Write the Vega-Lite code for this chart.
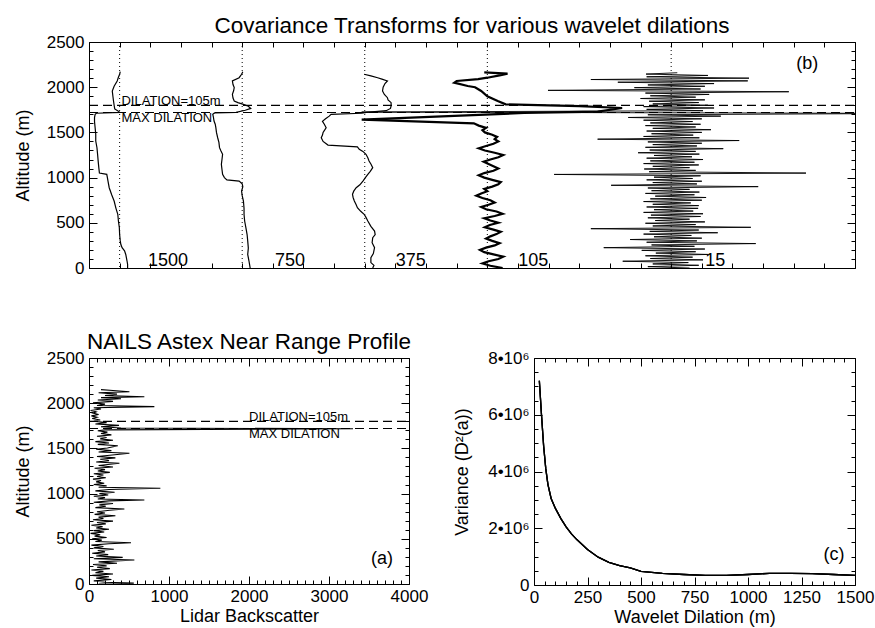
{
  "$schema": "https://vega.github.io/schema/vega-lite/v6.json",
  "padding": {"left": 13, "top": 14, "right": 5, "bottom": 2},
  "config": {
    "font": "Liberation Sans",
    "view": {"stroke": "black", "strokeWidth": 1},
    "axis": {"domain": false, "grid": false, "labelFontSize": 17, "titleFontSize": 18, "titleFontWeight": "normal", "labelColor": "black", "titleColor": "black", "tickColor": "black", "labelFont": "Liberation Sans", "titleFont": "Liberation Sans", "labelFlush": false, "labelOverlap": false, "tickWidth": 1, "format": "d", "minExtent": 0},
    "title": {"fontSize": 22.5, "fontWeight": "normal", "color": "black", "font": "Liberation Sans", "offset": -4, "frame": "group"},
    "line": {"color": "black"},
    "rule": {"color": "black"},
    "text": {"color": "black"}
  },
  "datasets": {
    "thin": [
      {"d":1500,"a":0,"x":1.13},{"d":1500,"a":40,"x":1.13},{"d":1500,"a":80,"x":1.12},{"d":1500,"a":150,"x":1.10},{"d":1500,"a":190,"x":1.08},{"d":1500,"a":225,"x":1.04},{"d":1500,"a":260,"x":1.02},{"d":1500,"a":300,"x":1.01},{"d":1500,"a":370,"x":1.00},{"d":1500,"a":446,"x":0.995},{"d":1500,"a":520,"x":0.98},{"d":1500,"a":594,"x":0.97},{"d":1500,"a":660,"x":0.94},{"d":1500,"a":741,"x":0.91},{"d":1500,"a":810,"x":0.87},{"d":1500,"a":888,"x":0.83},{"d":1500,"a":960,"x":0.81},{"d":1500,"a":1000,"x":0.80},{"d":1500,"a":1036,"x":0.79},{"d":1500,"a":1050,"x":0.67},{"d":1500,"a":1110,"x":0.66},{"d":1500,"a":1180,"x":0.65},{"d":1500,"a":1258,"x":0.64},{"d":1500,"a":1330,"x":0.63},{"d":1500,"a":1405,"x":0.61},{"d":1500,"a":1480,"x":0.61},{"d":1500,"a":1552,"x":0.60},{"d":1500,"a":1620,"x":0.59},{"d":1500,"a":1663,"x":0.59},{"d":1500,"a":1700,"x":0.60},{"d":1500,"a":1712,"x":0.62},{"d":1500,"a":1722,"x":1.00},{"d":1500,"a":1735,"x":0.98},{"d":1500,"a":1760,"x":0.92},{"d":1500,"a":1800,"x":0.91},{"d":1500,"a":1847,"x":0.90},{"d":1500,"a":1900,"x":0.89},{"d":1500,"a":1958,"x":0.88},{"d":1500,"a":2010,"x":0.91},{"d":1500,"a":2069,"x":0.96},{"d":1500,"a":2110,"x":0.98},{"d":1500,"a":2143,"x":1.00},{"d":1500,"a":2172,"x":1.01},
      {"d":750,"a":0,"x":3.13},{"d":750,"a":40,"x":3.12},{"d":750,"a":80,"x":3.11},{"d":750,"a":150,"x":3.09},{"d":750,"a":220,"x":3.10},{"d":750,"a":300,"x":3.09},{"d":750,"a":370,"x":3.08},{"d":750,"a":446,"x":3.06},{"d":750,"a":520,"x":3.04},{"d":750,"a":594,"x":3.03},{"d":750,"a":660,"x":3.03},{"d":750,"a":741,"x":3.02},{"d":750,"a":800,"x":3.00},{"d":750,"a":852,"x":2.99},{"d":750,"a":900,"x":3.01},{"d":750,"a":930,"x":3.00},{"d":750,"a":962,"x":2.95},{"d":750,"a":975,"x":2.75},{"d":750,"a":1000,"x":2.71},{"d":750,"a":1036,"x":2.68},{"d":750,"a":1090,"x":2.67},{"d":750,"a":1147,"x":2.66},{"d":750,"a":1200,"x":2.67},{"d":750,"a":1258,"x":2.68},{"d":750,"a":1300,"x":2.65},{"d":750,"a":1331,"x":2.63},{"d":750,"a":1390,"x":2.62},{"d":750,"a":1441,"x":2.60},{"d":750,"a":1500,"x":2.58},{"d":750,"a":1552,"x":2.57},{"d":750,"a":1590,"x":2.56},{"d":750,"a":1626,"x":2.54},{"d":750,"a":1670,"x":2.53},{"d":750,"a":1700,"x":2.52},{"d":750,"a":1715,"x":2.55},{"d":750,"a":1722,"x":2.90},{"d":750,"a":1745,"x":3.05},{"d":750,"a":1765,"x":3.14},{"d":750,"a":1790,"x":3.10},{"d":750,"a":1810,"x":3.02},{"d":750,"a":1830,"x":2.93},{"d":750,"a":1847,"x":2.87},{"d":750,"a":1880,"x":2.85},{"d":750,"a":1921,"x":2.84},{"d":750,"a":1960,"x":2.86},{"d":750,"a":1995,"x":2.87},{"d":750,"a":2030,"x":2.85},{"d":750,"a":2069,"x":2.84},{"d":750,"a":2105,"x":2.95},{"d":750,"a":2143,"x":2.99},{"d":750,"a":2170,"x":3.01},
      {"d":375,"a":0,"x":5.13},{"d":375,"a":30,"x":5.15},{"d":375,"a":60,"x":5.10},{"d":375,"a":114,"x":5.10},{"d":375,"a":160,"x":5.14},{"d":375,"a":225,"x":5.16},{"d":375,"a":280,"x":5.12},{"d":375,"a":335,"x":5.13},{"d":375,"a":370,"x":5.17},{"d":375,"a":409,"x":5.16},{"d":375,"a":460,"x":5.10},{"d":375,"a":520,"x":5.05},{"d":375,"a":560,"x":5.02},{"d":375,"a":594,"x":4.99},{"d":375,"a":630,"x":4.93},{"d":375,"a":667,"x":4.88},{"d":375,"a":700,"x":4.86},{"d":375,"a":741,"x":4.83},{"d":375,"a":780,"x":4.81},{"d":375,"a":815,"x":4.80},{"d":375,"a":850,"x":4.82},{"d":375,"a":888,"x":4.86},{"d":375,"a":920,"x":4.92},{"d":375,"a":962,"x":4.97},{"d":375,"a":1000,"x":5.01},{"d":375,"a":1036,"x":5.05},{"d":375,"a":1070,"x":5.09},{"d":375,"a":1110,"x":5.13},{"d":375,"a":1150,"x":5.10},{"d":375,"a":1184,"x":5.07},{"d":375,"a":1220,"x":5.05},{"d":375,"a":1258,"x":5.02},{"d":375,"a":1290,"x":4.97},{"d":375,"a":1313,"x":4.91},{"d":375,"a":1340,"x":4.88},{"d":375,"a":1360,"x":4.40},{"d":375,"a":1400,"x":4.32},{"d":375,"a":1441,"x":4.29},{"d":375,"a":1470,"x":4.31},{"d":375,"a":1500,"x":4.32},{"d":375,"a":1530,"x":4.35},{"d":375,"a":1552,"x":4.37},{"d":375,"a":1590,"x":4.34},{"d":375,"a":1622,"x":4.31},{"d":375,"a":1650,"x":4.36},{"d":375,"a":1680,"x":4.42},{"d":375,"a":1700,"x":4.45},{"d":375,"a":1712,"x":4.95},{"d":375,"a":1722,"x":5.03},{"d":375,"a":1740,"x":5.35},{"d":375,"a":1765,"x":5.42},{"d":375,"a":1792,"x":5.43},{"d":375,"a":1829,"x":5.43},{"d":375,"a":1860,"x":5.38},{"d":375,"a":1884,"x":5.37},{"d":375,"a":1920,"x":5.32},{"d":375,"a":1958,"x":5.29},{"d":375,"a":2000,"x":5.30},{"d":375,"a":2040,"x":5.33},{"d":375,"a":2069,"x":5.37},{"d":375,"a":2090,"x":5.28},{"d":375,"a":2105,"x":5.21},{"d":375,"a":2125,"x":5.10},{"d":375,"a":2143,"x":4.99}
    ],
    "t105": [
      {"a":0,"x":7.25},{"a":25,"x":7.05},{"a":50,"x":6.92},{"a":75,"x":7.02},{"a":100,"x":7.18},{"a":125,"x":7.26},{"a":150,"x":7.10},{"a":175,"x":6.95},{"a":200,"x":6.88},{"a":225,"x":6.98},{"a":250,"x":7.12},{"a":275,"x":7.20},{"a":300,"x":7.08},{"a":325,"x":6.98},{"a":350,"x":7.05},{"a":375,"x":7.15},{"a":400,"x":7.22},{"a":425,"x":7.10},{"a":450,"x":6.96},{"a":475,"x":7.04},{"a":500,"x":7.18},{"a":525,"x":7.05},{"a":550,"x":6.95},{"a":575,"x":7.12},{"a":600,"x":7.25},{"a":625,"x":7.15},{"a":650,"x":6.98},{"a":675,"x":6.90},{"a":700,"x":7.02},{"a":725,"x":7.12},{"a":750,"x":7.05},{"a":775,"x":6.92},{"a":800,"x":6.82},{"a":825,"x":6.90},{"a":850,"x":7.00},{"a":875,"x":6.95},{"a":900,"x":7.08},{"a":925,"x":7.18},{"a":950,"x":7.22},{"a":975,"x":7.08},{"a":1000,"x":6.95},{"a":1025,"x":6.86},{"a":1050,"x":6.95},{"a":1075,"x":7.10},{"a":1100,"x":7.18},{"a":1125,"x":7.10},{"a":1150,"x":7.02},{"a":1175,"x":6.94},{"a":1200,"x":7.05},{"a":1225,"x":7.18},{"a":1250,"x":7.26},{"a":1275,"x":7.12},{"a":1300,"x":6.96},{"a":1325,"x":6.86},{"a":1350,"x":6.98},{"a":1375,"x":7.10},{"a":1400,"x":7.18},{"a":1425,"x":7.12},{"a":1450,"x":7.16},{"a":1475,"x":7.08},{"a":1500,"x":6.96},{"a":1525,"x":6.92},{"a":1550,"x":6.98},{"a":1575,"x":6.86},{"a":1600,"x":6.78},{"a":1641,"x":4.95},{"a":1715,"x":7.6},{"a":1730,"x":8.8},{"a":1770,"x":9.2},{"a":1790,"x":8.5},{"a":1810,"x":7.3},{"a":1847,"x":7.17},{"a":1900,"x":7.0},{"a":1958,"x":6.90},{"a":2000,"x":6.8},{"a":2013,"x":6.68},{"a":2050,"x":6.46},{"a":2069,"x":6.5},{"a":2090,"x":6.85},{"a":2105,"x":7.0},{"a":2130,"x":7.2},{"a":2150,"x":7.33},{"a":2165,"x":6.95}
    ],
    "t15": [
      {"a":0,"x":10.30},{"a":15,"x":9.62},{"a":30,"x":10.45},{"a":45,"x":9.70},{"a":60,"x":10.28},{"a":75,"x":9.21},{"a":90,"x":10.52},{"a":105,"x":9.66},{"a":120,"x":10.35},{"a":135,"x":9.58},{"a":150,"x":10.60},{"a":165,"x":9.75},{"a":180,"x":10.40},{"a":195,"x":9.52},{"a":210,"x":10.55},{"a":225,"x":8.90},{"a":240,"x":10.38},{"a":255,"x":9.68},{"a":270,"x":11.38},{"a":285,"x":9.60},{"a":300,"x":10.42},{"a":315,"x":9.33},{"a":330,"x":10.50},{"a":345,"x":9.72},{"a":360,"x":10.33},{"a":375,"x":9.55},{"a":390,"x":10.76},{"a":405,"x":9.65},{"a":420,"x":10.45},{"a":435,"x":8.69},{"a":450,"x":11.30},{"a":465,"x":9.70},{"a":480,"x":10.40},{"a":495,"x":9.58},{"a":510,"x":10.55},{"a":525,"x":9.74},{"a":540,"x":10.30},{"a":555,"x":9.62},{"a":570,"x":10.48},{"a":585,"x":9.67},{"a":600,"x":10.52},{"a":615,"x":9.55},{"a":630,"x":10.36},{"a":645,"x":9.72},{"a":660,"x":10.44},{"a":675,"x":9.60},{"a":690,"x":10.45},{"a":705,"x":9.70},{"a":720,"x":10.32},{"a":735,"x":9.55},{"a":750,"x":10.50},{"a":765,"x":9.66},{"a":780,"x":10.57},{"a":795,"x":9.74},{"a":810,"x":10.38},{"a":825,"x":9.58},{"a":840,"x":10.46},{"a":855,"x":9.68},{"a":870,"x":10.30},{"a":885,"x":9.62},{"a":900,"x":11.42},{"a":915,"x":9.02},{"a":930,"x":10.42},{"a":945,"x":9.70},{"a":960,"x":10.50},{"a":975,"x":9.60},{"a":990,"x":10.35},{"a":1005,"x":9.72},{"a":1020,"x":10.48},{"a":1035,"x":8.09},{"a":1050,"x":12.20},{"a":1065,"x":9.64},{"a":1080,"x":10.40},{"a":1095,"x":9.56},{"a":1110,"x":10.30},{"a":1125,"x":9.70},{"a":1140,"x":10.45},{"a":1155,"x":9.55},{"a":1170,"x":10.38},{"a":1185,"x":9.66},{"a":1200,"x":10.52},{"a":1215,"x":9.60},{"a":1230,"x":10.34},{"a":1245,"x":9.72},{"a":1260,"x":10.46},{"a":1275,"x":9.46},{"a":1290,"x":10.40},{"a":1305,"x":9.65},{"a":1320,"x":10.85},{"a":1335,"x":9.58},{"a":1350,"x":10.42},{"a":1365,"x":9.70},{"a":1380,"x":10.50},{"a":1395,"x":9.62},{"a":1410,"x":11.11},{"a":1425,"x":8.80},{"a":1440,"x":10.46},{"a":1455,"x":9.55},{"a":1470,"x":10.36},{"a":1485,"x":9.68},{"a":1500,"x":10.50},{"a":1515,"x":9.60},{"a":1530,"x":10.65},{"a":1545,"x":9.70},{"a":1560,"x":10.40},{"a":1575,"x":9.58},{"a":1590,"x":10.48},{"a":1605,"x":9.66},{"a":1620,"x":10.35},{"a":1635,"x":9.55},{"a":1650,"x":10.50},{"a":1665,"x":9.30},{"a":1680,"x":10.81},{"a":1695,"x":9.62},{"a":1710,"x":14.00},{"a":1725,"x":4.95},{"a":1740,"x":10.52},{"a":1755,"x":9.60},{"a":1770,"x":10.70},{"a":1785,"x":9.55},{"a":1800,"x":10.60},{"a":1815,"x":9.70},{"a":1830,"x":10.45},{"a":1845,"x":9.64},{"a":1860,"x":10.55},{"a":1875,"x":9.50},{"a":1890,"x":10.40},{"a":1905,"x":9.66},{"a":1920,"x":10.62},{"a":1935,"x":9.58},{"a":1950,"x":11.92},{"a":1965,"x":7.99},{"a":1980,"x":10.48},{"a":1995,"x":9.40},{"a":2010,"x":10.55},{"a":2025,"x":9.62},{"a":2040,"x":10.70},{"a":2055,"x":9.13},{"a":2070,"x":11.25},{"a":2085,"x":8.69},{"a":2100,"x":11.27},{"a":2115,"x":9.60},{"a":2130,"x":10.60},{"a":2145,"x":9.59},{"a":2160,"x":10.10}
    ],
    "vlines": [{"x":1},{"x":3},{"x":5},{"x":7},{"x":10}],
    "hlinesTop": [{"a":1800,"x0":0.5,"x1":13},{"a":1720,"x0":0.5,"x1":13}],
    "numTop": [{"t":"1500","x":1.79,"a":25},{"t":"750","x":3.78,"a":25},{"t":"375","x":5.75,"a":25},{"t":"105","x":7.75,"a":25},{"t":"15","x":10.72,"a":25},{"t":"(b)","x":12.22,"a":2198}],
    "annTop": [{"t":"DILATION=105m","x":1.03,"a":1808},{"t":"MAX DILATION","x":1.03,"a":1612}],
    "lidar": [
      {"a":0,"v":120},{"a":10,"v":560},{"a":20,"v":200},{"a":35,"v":60},{"a":50,"v":280},{"a":65,"v":90},{"a":80,"v":250},{"a":95,"v":40},{"a":110,"v":300},{"a":125,"v":80},{"a":140,"v":180},{"a":155,"v":30},{"a":170,"v":260},{"a":185,"v":100},{"a":200,"v":220},{"a":215,"v":50},{"a":230,"v":350},{"a":245,"v":120},{"a":265,"v":567},{"a":280,"v":60},{"a":295,"v":421},{"a":310,"v":90},{"a":325,"v":240},{"a":340,"v":40},{"a":355,"v":200},{"a":370,"v":110},{"a":385,"v":310},{"a":400,"v":60},{"a":415,"v":180},{"a":430,"v":30},{"a":445,"v":250},{"a":457,"v":525},{"a":470,"v":80},{"a":485,"v":160},{"a":500,"v":40},{"a":515,"v":220},{"a":530,"v":70},{"a":545,"v":140},{"a":560,"v":20},{"a":575,"v":190},{"a":590,"v":60},{"a":605,"v":250},{"a":620,"v":90},{"a":635,"v":170},{"a":650,"v":30},{"a":665,"v":210},{"a":680,"v":100},{"a":695,"v":300},{"a":710,"v":50},{"a":725,"v":180},{"a":740,"v":120},{"a":755,"v":330},{"a":770,"v":70},{"a":785,"v":200},{"a":800,"v":100},{"a":815,"v":260},{"a":830,"v":442},{"a":845,"v":80},{"a":860,"v":210},{"a":875,"v":130},{"a":890,"v":300},{"a":905,"v":60},{"a":920,"v":250},{"a":929,"v":692},{"a":940,"v":110},{"a":955,"v":200},{"a":970,"v":60},{"a":985,"v":240},{"a":1000,"v":130},{"a":1015,"v":320},{"a":1030,"v":80},{"a":1045,"v":250},{"a":1059,"v":892},{"a":1070,"v":120},{"a":1085,"v":220},{"a":1100,"v":60},{"a":1115,"v":190},{"a":1130,"v":90},{"a":1145,"v":150},{"a":1160,"v":50},{"a":1175,"v":210},{"a":1190,"v":100},{"a":1205,"v":180},{"a":1220,"v":60},{"a":1235,"v":260},{"a":1250,"v":110},{"a":1265,"v":200},{"a":1280,"v":70},{"a":1295,"v":300},{"a":1310,"v":120},{"a":1335,"v":380},{"a":1350,"v":90},{"a":1365,"v":250},{"a":1380,"v":140},{"a":1395,"v":330},{"a":1410,"v":100},{"a":1425,"v":260},{"a":1446,"v":505},{"a":1460,"v":120},{"a":1475,"v":280},{"a":1490,"v":90},{"a":1505,"v":230},{"a":1530,"v":360},{"a":1545,"v":110},{"a":1560,"v":250},{"a":1575,"v":80},{"a":1590,"v":300},{"a":1605,"v":140},{"a":1620,"v":220},{"a":1635,"v":100},{"a":1650,"v":280},{"a":1665,"v":150},{"a":1680,"v":230},{"a":1695,"v":110},{"a":1705,"v":200},{"a":1712,"v":2200},{"a":1718,"v":3300},{"a":1725,"v":400},{"a":1740,"v":150},{"a":1755,"v":375},{"a":1770,"v":80},{"a":1785,"v":220},{"a":1800,"v":60},{"a":1815,"v":140},{"a":1830,"v":40},{"a":1845,"v":100},{"a":1860,"v":30},{"a":1875,"v":120},{"a":1890,"v":50},{"a":1905,"v":90},{"a":1920,"v":20},{"a":1935,"v":150},{"a":1950,"v":60},{"a":1962,"v":817},{"a":1975,"v":100},{"a":1990,"v":200},{"a":2005,"v":50},{"a":2020,"v":300},{"a":2035,"v":110},{"a":2050,"v":400},{"a":2062,"v":150},{"a":2072,"v":692},{"a":2085,"v":200},{"a":2100,"v":350},{"a":2115,"v":120},{"a":2127,"v":505},{"a":2140,"v":300},{"a":2150,"v":150}
    ],
    "hlinesA": [{"a":1800,"x0":0,"x1":4000},{"a":1720,"x0":0,"x1":4000}],
    "annA": [{"t":"DILATION=105m","v":2000,"a":1808},{"t":"MAX DILATION","v":2000,"a":1612}],
    "labA": [{"t":"(a)","v":3662,"a":221}],
    "curve": [
      {"w":25,"s":7200000},{"w":30,"s":6600000},{"w":35,"s":6000000},{"w":45,"s":4900000},{"w":55,"s":4100000},{"w":65,"s":3550000},{"w":80,"s":3050000},{"w":100,"s":2700000},{"w":125,"s":2350000},{"w":150,"s":2050000},{"w":175,"s":1800000},{"w":200,"s":1600000},{"w":250,"s":1250000},{"w":300,"s":980000},{"w":350,"s":800000},{"w":400,"s":680000},{"w":450,"s":600000},{"w":500,"s":480000},{"w":600,"s":410000},{"w":700,"s":370000},{"w":800,"s":340000},{"w":900,"s":340000},{"w":1000,"s":370000},{"w":1100,"s":410000},{"w":1200,"s":410000},{"w":1300,"s":400000},{"w":1400,"s":370000},{"w":1500,"s":340000}
    ],
    "labC": [{"t":"(c)","w":1402,"s":880000}]
  },
  "spacing": 53,
  "vconcat": [
    {
      "hconcat": [
        {
          "width": 766,
          "height": 226,
          "title": "Covariance Transforms for various wavelet dilations",
          "resolve": {"axis": {"x": "independent", "y": "independent"}},
          "layer": [
            {
              "data": {"name": "thin"},
              "mark": {"type": "line", "strokeWidth": 1.2, "clip": true},
              "encoding": {
                "x": {"field": "x", "type": "quantitative", "scale": {"domain": [0.5, 13], "nice": false, "zero": false}, "axis": {"orient": "bottom", "values": [0.5,1,1.5,2,2.5,3,3.5,4,4.5,5,5.5,6,6.5,7,7.5,8,8.5,9,9.5,10,10.5,11,11.5,12,12.5,13], "labels": false, "tickSize": 5, "offset": -5, "title": null}},
                "y": {"field": "a", "type": "quantitative", "scale": {"domain": [0, 2500], "nice": false}, "axis": {"orient": "left", "values": [0,500,1000,1500,2000,2500], "tickSize": 8, "offset": -8, "labelPadding": 5, "title": "Altitude (m)", "titlePadding": 14}},
                "detail": {"field": "d"},
                "order": {"field": "a"}
              }
            },
            {
              "data": {"name": "t105"},
              "mark": {"type": "line", "strokeWidth": 2.2, "clip": true},
              "encoding": {
                "x": {"field": "x", "type": "quantitative", "scale": {"domain": [0.5, 13], "nice": false, "zero": false}, "axis": {"orient": "top", "values": [0.5,1,1.5,2,2.5,3,3.5,4,4.5,5,5.5,6,6.5,7,7.5,8,8.5,9,9.5,10,10.5,11,11.5,12,12.5,13], "labels": false, "tickSize": 5, "offset": -5, "title": null}},
                "y": {"field": "a", "type": "quantitative", "scale": {"domain": [0, 2500], "nice": false}, "axis": {"orient": "left", "values": [100,200,300,400,600,700,800,900,1100,1200,1300,1400,1600,1700,1800,1900,2100,2200,2300,2400], "labels": false, "tickSize": 4, "offset": -4, "title": null}},
                "order": {"field": "a"}
              }
            },
            {
              "data": {"name": "t15"},
              "mark": {"type": "line", "strokeWidth": 0.9, "clip": true},
              "encoding": {
                "x": {"field": "x", "type": "quantitative", "scale": {"domain": [0.5, 13], "nice": false, "zero": false}, "axis": null},
                "y": {"field": "a", "type": "quantitative", "scale": {"domain": [0, 2500], "nice": false}, "axis": {"orient": "right", "values": [0,500,1000,1500,2000,2500], "labels": false, "tickSize": 8, "offset": -8, "title": null}},
                "order": {"field": "a"}
              }
            },
            {
              "data": {"name": "hlinesTop"},
              "mark": {"type": "rule", "strokeDash": [9, 5], "strokeWidth": 1.2},
              "encoding": {
                "x": {"field": "x0", "type": "quantitative", "scale": {"domain": [0.5, 13], "nice": false, "zero": false}, "axis": null},
                "x2": {"field": "x1"},
                "y": {"field": "a", "type": "quantitative", "scale": {"domain": [0, 2500], "nice": false}, "axis": {"orient": "right", "values": [100,200,300,400,600,700,800,900,1100,1200,1300,1400,1600,1700,1800,1900,2100,2200,2300,2400], "labels": false, "tickSize": 4, "offset": -4, "title": null}}
              }
            },
            {
              "data": {"name": "vlines"},
              "mark": {"type": "rule", "strokeDash": [1, 3], "strokeWidth": 1},
              "encoding": {
                "x": {"field": "x", "type": "quantitative", "scale": {"domain": [0.5, 13], "nice": false, "zero": false}, "axis": null}
              }
            },
            {
              "data": {"name": "numTop"},
              "mark": {"type": "text", "fontSize": 18, "align": "center", "baseline": "alphabetic"},
              "encoding": {
                "x": {"field": "x", "type": "quantitative", "scale": {"domain": [0.5, 13], "nice": false, "zero": false}, "axis": null},
                "y": {"field": "a", "type": "quantitative", "scale": {"domain": [0, 2500], "nice": false}, "axis": null},
                "text": {"field": "t"}
              }
            },
            {
              "data": {"name": "annTop"},
              "mark": {"type": "text", "fontSize": 13, "align": "left", "baseline": "alphabetic"},
              "encoding": {
                "x": {"field": "x", "type": "quantitative", "scale": {"domain": [0.5, 13], "nice": false, "zero": false}, "axis": null},
                "y": {"field": "a", "type": "quantitative", "scale": {"domain": [0, 2500], "nice": false}, "axis": null},
                "text": {"field": "t"}
              }
            }
          ]
        }
      ]
    },
    {
      "spacing": 24,
      "hconcat": [
        {
          "width": 320,
          "height": 226,
          "title": "NAILS Astex Near Range Profile",
          "resolve": {"axis": {"x": "independent", "y": "independent"}},
          "layer": [
            {
              "data": {"name": "lidar"},
              "mark": {"type": "line", "strokeWidth": 1.1, "clip": true},
              "encoding": {
                "x": {"field": "v", "type": "quantitative", "scale": {"domain": [0, 4000], "nice": false}, "axis": {"orient": "bottom", "values": [0,1000,2000,3000,4000], "tickSize": 8, "offset": -8, "labelPadding": 4, "title": "Lidar Backscatter", "titlePadding": 3}},
                "y": {"field": "a", "type": "quantitative", "scale": {"domain": [0, 2500], "nice": false}, "axis": {"orient": "left", "values": [0,500,1000,1500,2000,2500], "tickSize": 8, "offset": -8, "labelPadding": 5, "title": "Altitude (m)", "titlePadding": 14}},
                "order": {"field": "a"}
              }
            },
            {
              "data": {"name": "hlinesA"},
              "mark": {"type": "rule", "strokeDash": [9, 5], "strokeWidth": 1.2},
              "encoding": {
                "x": {"field": "x0", "type": "quantitative", "scale": {"domain": [0, 4000], "nice": false}, "axis": {"orient": "bottom", "values": [100,200,300,400,500,600,700,800,900,1100,1200,1300,1400,1500,1600,1700,1800,1900,2100,2200,2300,2400,2500,2600,2700,2800,2900,3100,3200,3300,3400,3500,3600,3700,3800,3900], "labels": false, "tickSize": 4, "offset": -4, "title": null}},
                "x2": {"field": "x1"},
                "y": {"field": "a", "type": "quantitative", "scale": {"domain": [0, 2500], "nice": false}, "axis": {"orient": "left", "values": [100,200,300,400,600,700,800,900,1100,1200,1300,1400,1600,1700,1800,1900,2100,2200,2300,2400], "labels": false, "tickSize": 4, "offset": -4, "title": null}}
              }
            },
            {
              "data": {"name": "annA"},
              "mark": {"type": "text", "fontSize": 13, "align": "left", "baseline": "alphabetic"},
              "encoding": {
                "x": {"field": "v", "type": "quantitative", "scale": {"domain": [0, 4000], "nice": false}, "axis": {"orient": "top", "values": [0,1000,2000,3000,4000], "labels": false, "tickSize": 8, "offset": -8, "title": null}},
                "y": {"field": "a", "type": "quantitative", "scale": {"domain": [0, 2500], "nice": false}, "axis": {"orient": "right", "values": [0,500,1000,1500,2000,2500], "labels": false, "tickSize": 8, "offset": -8, "title": null}},
                "text": {"field": "t"}
              }
            },
            {
              "data": {"name": "labA"},
              "mark": {"type": "text", "fontSize": 18, "align": "center", "baseline": "alphabetic"},
              "encoding": {
                "x": {"field": "v", "type": "quantitative", "scale": {"domain": [0, 4000], "nice": false}, "axis": {"orient": "top", "values": [100,200,300,400,500,600,700,800,900,1100,1200,1300,1400,1500,1600,1700,1800,1900,2100,2200,2300,2400,2500,2600,2700,2800,2900,3100,3200,3300,3400,3500,3600,3700,3800,3900], "labels": false, "tickSize": 4, "offset": -4, "title": null}},
                "y": {"field": "a", "type": "quantitative", "scale": {"domain": [0, 2500], "nice": false}, "axis": {"orient": "right", "values": [100,200,300,400,600,700,800,900,1100,1200,1300,1400,1600,1700,1800,1900,2100,2200,2300,2400], "labels": false, "tickSize": 4, "offset": -4, "title": null}},
                "text": {"field": "t"}
              }
            }
          ]
        },
        {
          "width": 321,
          "height": 227,
          "resolve": {"axis": {"x": "independent", "y": "independent"}},
          "layer": [
            {
              "data": {"name": "curve"},
              "mark": {"type": "line", "strokeWidth": 1.3},
              "encoding": {
                "x": {"field": "w", "type": "quantitative", "scale": {"domain": [0, 1500], "nice": false}, "axis": {"orient": "bottom", "values": [0,250,500,750,1000,1250,1500], "tickSize": 8, "offset": -8, "labelPadding": 4, "title": "Wavelet Dilation (m)", "titlePadding": 3}},
                "y": {"field": "s", "type": "quantitative", "scale": {"domain": [0, 8000000], "nice": false}, "axis": {"orient": "left", "values": [0,2000000,4000000,6000000,8000000], "labelExpr": "datum.value == 0 ? '0' : format(datum.value/1000000, 'd') + '•10⁶'", "tickSize": 8, "offset": -8, "labelPadding": 5, "title": "Variance (D²(a))", "titlePadding": 16}}
              }
            },
            {
              "data": {"name": "labC"},
              "mark": {"type": "text", "fontSize": 18, "align": "center", "baseline": "alphabetic"},
              "encoding": {
                "x": {"field": "w", "type": "quantitative", "scale": {"domain": [0, 1500], "nice": false}, "axis": {"orient": "top", "values": [0,250,500,750,1000,1250,1500], "labels": false, "tickSize": 8, "offset": -8, "title": null}},
                "y": {"field": "s", "type": "quantitative", "scale": {"domain": [0, 8000000], "nice": false}, "axis": {"orient": "right", "values": [0,2000000,4000000,6000000,8000000], "labels": false, "tickSize": 8, "offset": -8, "title": null}},
                "text": {"field": "t"}
              }
            },
            {
              "data": {"name": "curve"},
              "mark": {"type": "line", "strokeWidth": 1.3},
              "encoding": {
                "x": {"field": "w", "type": "quantitative", "scale": {"domain": [0, 1500], "nice": false}, "axis": {"orient": "bottom", "values": [50,100,150,200,300,350,400,450,550,600,650,700,800,850,900,950,1050,1100,1150,1200,1300,1350,1400,1450], "labels": false, "tickSize": 4, "offset": -4, "title": null}},
                "y": {"field": "s", "type": "quantitative", "scale": {"domain": [0, 8000000], "nice": false}, "axis": {"orient": "left", "values": [500000,1000000,1500000,2500000,3000000,3500000,4500000,5000000,5500000,6500000,7000000,7500000], "labels": false, "tickSize": 4, "offset": -4, "title": null}}
              }
            },
            {
              "data": {"name": "curve"},
              "mark": {"type": "line", "strokeWidth": 1.3},
              "encoding": {
                "x": {"field": "w", "type": "quantitative", "scale": {"domain": [0, 1500], "nice": false}, "axis": {"orient": "top", "values": [50,100,150,200,300,350,400,450,550,600,650,700,800,850,900,950,1050,1100,1150,1200,1300,1350,1400,1450], "labels": false, "tickSize": 4, "offset": -4, "title": null}},
                "y": {"field": "s", "type": "quantitative", "scale": {"domain": [0, 8000000], "nice": false}, "axis": {"orient": "right", "values": [500000,1000000,1500000,2500000,3000000,3500000,4500000,5000000,5500000,6500000,7000000,7500000], "labels": false, "tickSize": 4, "offset": -4, "title": null}}
              }
            }
          ]
        }
      ]
    }
  ]
}
